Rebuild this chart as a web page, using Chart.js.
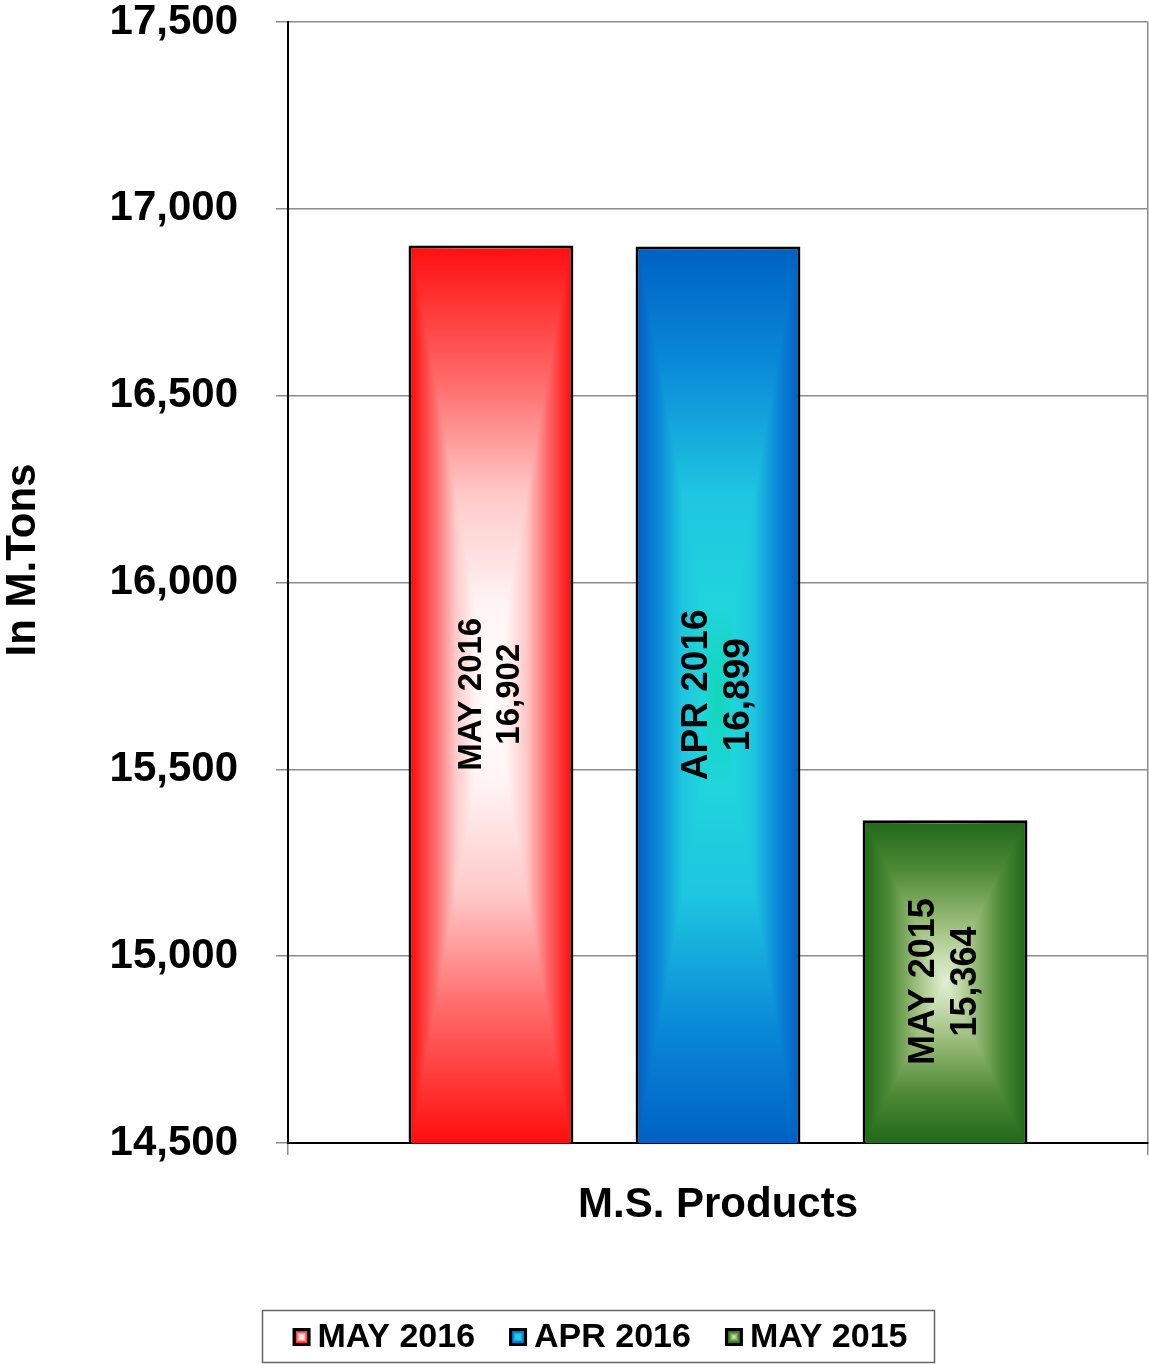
<!DOCTYPE html>
<html>
<head>
<meta charset="utf-8">
<script src="https://cdn.jsdelivr.net/npm/chart.js@4.4.0/dist/chart.umd.min.js"></script>
<style>
  html, body { margin: 0; padding: 0; background: #fff; }
  #wrap { width: 1149px; height: 1364px; }
</style>
</head>
<body>
<div id="wrap"><canvas id="grafico" width="1149" height="1364"></canvas></div>
<script>
// dados
const categorias = ["M.S. Products"];
const series = ["MAY 2016", "APR 2016", "MAY 2015"];
const valores = [16902, 16899, 15364];
const ticksY = [14500, 15000, 15500, 16000, 16500, 17000, 17500];
const tituloY = "In M.Tons";

// estilo
const FONTE = "'Liberation Sans', Arial, Helvetica, sans-serif";
const corBorda = ["#ff1010", "#0062c4", "#226a1a"];
// gradiente retangular: borda (0) -> centro (1)
const gradientes = [
  [[0, "#ff1010"], [0.3, "#ff6b6b"], [0.55, "#ffc8c8"], [0.8, "#fff4f4"], [1, "#ffffff"]],
  [[0, "#0062c4"], [0.25, "#0a88d8"], [0.55, "#1ec6e0"], [0.8, "#20d4dc"], [1, "#10d8b8"]],
  [[0, "#226a1a"], [0.3, "#4e8a36"], [0.6, "#94b873"], [0.85, "#c8dcb0"], [1, "#e2eed6"]],
];
const tamanhoRotulo = [33, 37, 36];

function gradiente(ctx, x0, y0, x1, y1, stops) {
  const g = ctx.createLinearGradient(x0, y0, x1, y1);
  stops.forEach(([o, c]) => g.addColorStop(o, c));
  return g;
}

function pintaRetangulo(ctx, x0, y0, x1, y1, stops) {
  const cx = (x0 + x1) / 2, cy = (y0 + y1) / 2;
  ctx.save();
  ctx.beginPath();
  ctx.rect(x0, y0, x1 - x0, y1 - y0);
  ctx.clip();
  // fundo com gradiente horizontal (espelhado)
  ctx.fillStyle = gradiente(ctx, x0, 0, cx, 0, stops);
  ctx.fillRect(x0, y0, cx - x0, y1 - y0);
  ctx.fillStyle = gradiente(ctx, x1, 0, cx, 0, stops);
  ctx.fillRect(cx, y0, x1 - cx, y1 - y0);
  // triangulos de cima e de baixo com gradiente vertical
  ctx.beginPath();
  ctx.moveTo(x0, y0); ctx.lineTo(x1, y0); ctx.lineTo(cx, cy); ctx.closePath();
  ctx.fillStyle = gradiente(ctx, 0, y0, 0, cy, stops);
  ctx.fill();
  ctx.beginPath();
  ctx.moveTo(x0, y1); ctx.lineTo(x1, y1); ctx.lineTo(cx, cy); ctx.closePath();
  ctx.fillStyle = gradiente(ctx, 0, y1, 0, cy, stops);
  ctx.fill();
  ctx.restore();
}

const pluginBarras = {
  id: "barrasGradiente",
  afterDatasetDraw(chart, args) {
    const ctx = chart.ctx;
    const i = args.index;
    const bw = chart.data.datasets[i].borderWidth;
    const fundo = chart.chartArea.bottom;
    args.meta.data.forEach(el => {
      const { x, y, base, width } = el.getProps(["x", "y", "base", "width"], true);
      const b = Math.min(base, fundo);
      pintaRetangulo(ctx, x - width / 2 + bw, y + bw, x + width / 2 - bw, b - bw, gradientes[i]);
    });
  },
  afterDatasetsDraw(chart) {
    const ctx = chart.ctx;
    const fundo = chart.chartArea.bottom;
    chart.data.datasets.forEach((ds, i) => {
      const meta = chart.getDatasetMeta(i);
      meta.data.forEach((el, j) => {
        const { x, y, base } = el.getProps(["x", "y", "base"], true);
        const b = Math.min(base, fundo);
        const tam = tamanhoRotulo[i];
        const linhas = [ds.label, ds.data[j].toLocaleString("en-US")];
        const lh = tam * 1.15;
        ctx.save();
        ctx.translate(x, (y + b) / 2);
        ctx.rotate(-Math.PI / 2);
        ctx.font = `bold ${tam}px ${FONTE}`;
        ctx.fillStyle = "#000";
        ctx.textAlign = "center";
        ctx.textBaseline = "middle";
        ctx.fillText(linhas[0], 0, -lh / 2);
        ctx.fillText(linhas[1], 0, lh / 2);
        ctx.restore();
      });
    });
  },
  afterDraw(chart) {
    const ctx = chart.ctx;
    // titulo do eixo Y
    ctx.save();
    ctx.translate(23, 560);
    ctx.rotate(-Math.PI / 2);
    ctx.font = `bold 42px ${FONTE}`;
    ctx.fillStyle = "#000";
    ctx.textAlign = "center";
    ctx.textBaseline = "middle";
    ctx.fillText(tituloY, 0, 0);
    ctx.restore();

    // legenda com moldura
    ctx.save();
    ctx.strokeStyle = "#666";
    ctx.lineWidth = 1.5;
    ctx.strokeRect(262.5, 1310.5, 672, 52);
    ctx.font = `bold 34px ${FONTE}`;
    const caixa = 18, gap = 7, entre = 34;
    const larguras = series.map(s => ctx.measureText(s).width);
    const total = larguras.reduce((a, w) => a + caixa + gap + w, 0) + entre * (series.length - 1);
    let x = 600 - total / 2;
    const cy = 1337;
    series.forEach((s, i) => {
      ctx.fillStyle = "#000";
      ctx.fillRect(x, cy - caixa / 2, caixa, caixa);
      pintaRetangulo(ctx, x + 3, cy - caixa / 2 + 3, x + caixa - 3, cy + caixa / 2 - 3, gradientes[i]);
      ctx.fillStyle = "#000";
      ctx.textAlign = "left";
      ctx.textBaseline = "middle";
      ctx.fillText(s, x + caixa + gap, cy + 1);
      x += caixa + gap + larguras[i] + entre;
    });
    ctx.restore();
  }
};

const ctx = document.getElementById("grafico").getContext("2d");

new Chart(ctx, {
  type: "bar",
  data: {
    labels: categorias,
    datasets: series.map((s, i) => ({
      label: s,
      data: [valores[i]],
      backgroundColor: corBorda[i],
      borderColor: "#000",
      borderWidth: 3,
      borderSkipped: false,
      categoryPercentage: 0.792,
      barPercentage: 0.726,
    })),
  },
  options: {
    responsive: false,
    animation: false,
    devicePixelRatio: 1,
    layout: { padding: { top: 22, right: 1, bottom: 134, left: 0 } },
    plugins: { legend: { display: false }, tooltip: { enabled: false } },
    scales: {
      x: {
        offset: true,
        grid: { display: true, drawOnChartArea: true, offset: true, color: "#8c8c8c", lineWidth: 1.5, tickLength: 12 },
        border: { display: true, color: "#000", width: 2 },
        ticks: { font: { family: FONTE, size: 42, weight: "bold" }, color: "#000", padding: 25 },
        afterFit: s => { s.height = 87; },
      },
      y: {
        min: 14500,
        max: 17500,
        afterBuildTicks: s => { s.ticks = ticksY.map(v => ({ value: v })); },
        grid: { color: "#8c8c8c", lineWidth: 1.5, tickLength: 12 },
        border: { display: true, color: "#000", width: 2 },
        ticks: {
          font: { family: FONTE, size: 42, weight: "bold", lineHeight: 1 },
          color: "#000",
          padding: 38,
          callback: v => v.toLocaleString("en-US"),
        },
        afterFit: s => {
          s.width = 288;
          s.paddingTop = 21;
          s.paddingBottom = 21;
        },
      },
    },
  },
  plugins: [pluginBarras],
});
</script>
</body>
</html>
